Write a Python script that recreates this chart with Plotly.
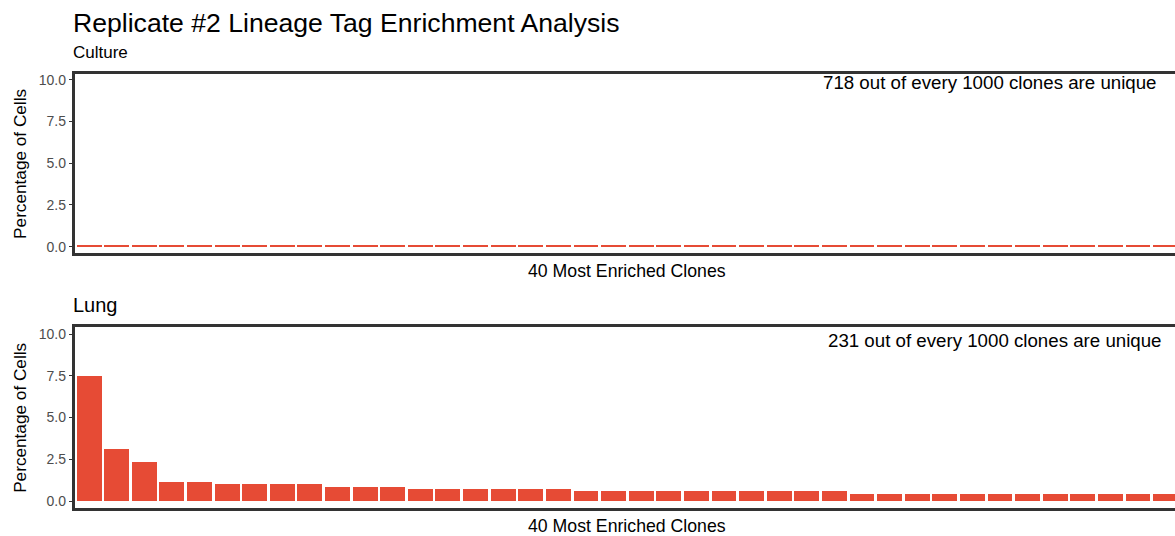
import plotly.graph_objects as go

# ---------------- data ----------------
clones = [1, 2, 3, 4, 5, 6, 7, 8, 9, 10,
          11, 12, 13, 14, 15, 16, 17, 18, 19, 20,
          21, 22, 23, 24, 25, 26, 27, 28, 29, 30,
          31, 32, 33, 34, 35, 36, 37, 38, 39, 40]

culture_pct = [0.12, 0.12, 0.12, 0.12, 0.12, 0.12, 0.12, 0.12, 0.12, 0.12,
               0.12, 0.05, 0.05, 0.05, 0.05, 0.05, 0.05, 0.05, 0.05, 0.05,
               0.05, 0.05, 0.05, 0.05, 0.05, 0.05, 0.05, 0.05, 0.05, 0.05,
               0.05, 0.05, 0.05, 0.05, 0.05, 0.05, 0.05, 0.05, 0.05, 0.05]

lung_pct = [7.47, 3.14, 2.33, 1.13, 1.13, 1.01, 1.01, 1.01, 1.01, 0.83,
            0.83, 0.83, 0.72, 0.72, 0.72, 0.72, 0.72, 0.72, 0.60, 0.60,
            0.60, 0.60, 0.60, 0.60, 0.60, 0.60, 0.60, 0.60, 0.42, 0.42,
            0.42, 0.42, 0.42, 0.42, 0.42, 0.42, 0.42, 0.42, 0.42, 0.42]

y_tickvals = [0, 2.5, 5, 7.5, 10]
y_ticktext = ["0.0", "2.5", "5.0", "7.5", "10.0"]

main_title = "Replicate #2 Lineage Tag Enrichment Analysis"
panel_titles = ["Culture", "Lung"]
unique_notes = ["718 out of every 1000 clones are unique",
                "231 out of every 1000 clones are unique"]
x_title = "40 Most Enriched Clones"
y_title = "Percentage of Cells"

# ---------------- styling ----------------
W, H = 1175, 536
BAR = "#E64B35"
LINE = "#333333"
TICKTXT = "#4D4D4D"
FONT = "Liberation Sans, Arial, Helvetica, sans-serif"


def fx(px):
    return px / W


def fy(py):
    return 1 - py / H


fig = go.Figure()
fig.add_trace(go.Bar(x=clones, y=culture_pct, width=0.9, marker_color=BAR,
                     marker_line_width=0, xaxis="x", yaxis="y", showlegend=False))
fig.add_trace(go.Bar(x=clones, y=lung_pct, width=0.9, marker_color=BAR,
                     marker_line_width=0, xaxis="x2", yaxis="y2", showlegend=False))

xcommon = dict(range=[0.49, 40.36], showline=True, mirror=True, linecolor=LINE,
               linewidth=2.5, showticklabels=False, ticks="", showgrid=False,
               zeroline=False, fixedrange=True)
ycommon = dict(showline=True, mirror=False, linecolor=LINE, linewidth=2.5,
               ticks="outside", ticklen=3, tickwidth=1.2, tickcolor=LINE,
               tickvals=y_tickvals, ticktext=y_ticktext,
               tickfont=dict(size=14, color=TICKTXT, family=FONT),
               showgrid=False, zeroline=False, fixedrange=True)

x_dom = [fx(74.5), 1.0]
top_dom = [fy(252.7), fy(72.3)]
bot_dom = [fy(509.0), fy(326.7)]

fig.update_layout(
    width=W, height=H,
    margin=dict(l=0, r=0, t=0, b=0, pad=0),
    paper_bgcolor="white", plot_bgcolor="white",
    font=dict(family=FONT, color="black"),
    bargap=0,
    xaxis=dict(domain=x_dom, anchor="y", **xcommon),
    yaxis=dict(domain=top_dom, anchor="x", range=[-0.40, 10.36], **ycommon),
    xaxis2=dict(domain=x_dom, anchor="y2", **xcommon),
    yaxis2=dict(domain=bot_dom, anchor="x2", range=[-0.42, 10.43], **ycommon),
)

ann = []
# main title and panel titles
ann.append(dict(text=main_title, x=fx(71), y=fy(21), xanchor="left", yanchor="middle",
                font=dict(size=26.6, color="black")))
ann.append(dict(text=panel_titles[0], x=fx(71), y=fy(51), xanchor="left", yanchor="middle",
                font=dict(size=17, color="black")))
ann.append(dict(text=panel_titles[1], x=fx(71), y=fy(305), xanchor="left", yanchor="middle",
                font=dict(size=20, color="black")))
# axis titles
for yc in (162.5, 417.9):
    ann.append(dict(text=y_title, x=fx(19.3), y=fy(yc), xanchor="center", yanchor="middle",
                    textangle=-90, font=dict(size=17.2, color="black")))
for yc in (271, 527):
    ann.append(dict(text=x_title, x=fx(626.5), y=fy(yc), xanchor="center", yanchor="middle",
                    font=dict(size=17.7, color="black")))
# uniqueness notes
ann.append(dict(text=unique_notes[0], x=fx(1159), y=fy(81), xanchor="right", yanchor="middle",
                font=dict(size=18.7, color="black")))
ann.append(dict(text=unique_notes[1], x=fx(1164), y=fy(340.5), xanchor="right", yanchor="middle",
                font=dict(size=18.7, color="black")))
for a in ann:
    a.update(xref="paper", yref="paper", showarrow=False)
fig.update_layout(annotations=ann)

fig.write_html(
    "out.html",
    config={"displayModeBar": False},
    post_script="document.body.style.margin='0';document.body.style.padding='0';"
                "document.body.style.overflow='hidden';",
)
